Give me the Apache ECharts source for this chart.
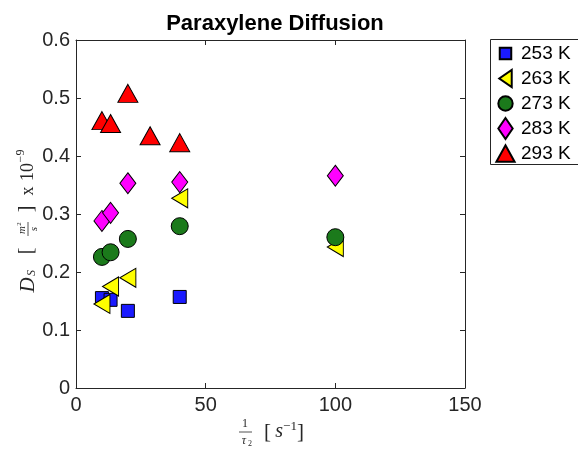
<!DOCTYPE html>
<html><head><meta charset="utf-8">
<script src="https://cdn.jsdelivr.net/npm/echarts@6/dist/echarts.min.js"></script>
<style>html,body{margin:0;padding:0;background:#fff}#c{width:578px;height:450px}</style>
</head><body><div id="c"></div>
<script>
const seriesNames = ['253 K', '263 K', '273 K', '283 K', '293 K'];
const x253 = [10, 13.33, 20, 40];
const y253 = [0.155, 0.152, 0.133, 0.157];
const x263 = [10, 13.33, 20, 40, 100];
const y263 = [0.145, 0.175, 0.190, 0.327, 0.243];
const x273 = [10, 13.33, 20, 40, 100];
const y273 = [0.226, 0.234, 0.257, 0.279, 0.260];
const x283 = [10, 13.33, 20, 40, 100];
const y283 = [0.288, 0.302, 0.353, 0.355, 0.366];
const x293 = [10, 13.33, 20, 28.57, 40];
const y293 = [0.461, 0.456, 0.508, 0.435, 0.423];
const xTicks = [0, 50, 100, 150];
const yTicks = [0, 0.1, 0.2, 0.3, 0.4, 0.5, 0.6];

const pairs = (xs, ys) => xs.map((x, i) => [x, ys[i]]);
const colors = ['#1a1aff', '#ffff00', '#1b7a1b', '#ff00ff', '#ff0000'];
const symbols = ['rect', 'triangle', 'circle', 'diamond', 'triangle'];
const box = 'M0,0 M24,24 ';
const legendIcons = [
  'path://' + box + 'M6,6 L18,6 L18,18 L6,18 Z',
  'path://' + box + 'M18.5,3 L18.5,21 L5.5,12 Z',
  'path://' + box + 'M4.5,12 A7.5,7.5 0 1,1 19.5,12 A7.5,7.5 0 1,1 4.5,12 Z',
  'path://' + box + 'M12,1 L19.5,12 L12,23 L4.5,12 Z',
  'path://' + box + 'M2.5,20.5 L21.5,20.5 L12,3.5 Z'
];
const rotations = [0, 90, 0, 0, 0];
const sizes = [[13, 13], [19, 16], [17, 17], [16, 21], [20, 18]];
const dataSets = [pairs(x253, y253), pairs(x263, y263), pairs(x273, y273), pairs(x283, y283), pairs(x293, y293)];

const font = 'Liberation Sans, Arial, Helvetica, sans-serif';
const serif = 'Liberation Serif, Times New Roman, serif';
const ink = '#262626';
const axisLine = { show: true, onZero: false, lineStyle: { color: ink, width: 1 } };
const tick = { show: true, inside: true, length: 5, lineStyle: { color: ink } };

const T = (x, y, text, size, opts) => ({
  type: 'text', x: x, y: y,
  style: Object.assign({ text: text, fontFamily: serif, fontSize: size, fill: ink, align: 'center', verticalAlign: 'middle' }, opts || {})
});

const chart = echarts.init(document.getElementById('c'), null, { renderer: 'canvas' });
chart.setOption({
  animation: false,
  title: {
    text: 'Paraxylene Diffusion', left: 270, top: 8, textAlign: 'center',
    textStyle: { fontFamily: font, fontWeight: 'bold', fontSize: 22, color: '#000' }
  },
  grid: { left: 76, top: 40, right: 113, bottom: 62, containLabel: false },
  legend: {
    left: 490, top: 39, orient: 'vertical', itemGap: 0, itemWidth: 23, itemHeight: 23,
    padding: [2, 3, 3, 3], borderWidth: 0, backgroundColor: 'transparent',
    data: seriesNames.map((n, i) => ({ name: n, icon: legendIcons[i] })),
    textStyle: { fontFamily: font, fontSize: 19, lineHeight: 22, color: '#000', padding: [0, 0, 0, -1] }
  },
  xAxis: [{
    type: 'value', min: 0, max: 150, interval: 50,
    axisLine: axisLine, axisTick: tick,
    axisLabel: { fontFamily: font, fontSize: 20, color: ink, margin: 7 },
    splitLine: { show: false }
  }, {
    type: 'value', position: 'top', min: 0, max: 150, interval: 50,
    axisLine: axisLine, axisTick: tick,
    axisLabel: { show: false }, splitLine: { show: false }
  }],
  yAxis: [{
    type: 'value', min: 0, max: 0.6, interval: 0.1,
    axisLine: axisLine, axisTick: tick,
    axisLabel: { fontFamily: font, fontSize: 20, color: ink, margin: 6,
      formatter: v => { const t = yTicks.find(k => Math.abs(k - v) < 1e-9); return String(t); } },
    splitLine: { show: false }
  }, {
    type: 'value', position: 'right', min: 0, max: 0.6, interval: 0.1,
    axisLine: axisLine, axisTick: tick,
    axisLabel: { show: false }, splitLine: { show: false }
  }],
  graphic: [{
    type: 'rect', z: -1, shape: { x: 490.5, y: 39.5, width: 120, height: 125 },
    style: { fill: '#fff', stroke: ink, lineWidth: 1 }
  }, {
    type: 'group', x: 0, y: 0,
    children: [
      T(245, 424, '1', 12),
      { type: 'line', shape: { x1: 239, y1: 432, x2: 252, y2: 432 }, style: { stroke: ink, lineWidth: 0.8 } },
      T(244, 441, 'τ', 12, { fontStyle: 'italic' }),
      T(250, 444, '2', 8),
      T(284, 432, '', 17, {
        text: '{b|[} {i|s}{s|−1}{b|]}',
        rich: {
          b: { fontFamily: serif, fontSize: 21, fill: ink },
          i: { fontFamily: serif, fontStyle: 'italic', fontSize: 20, fill: ink },
          s: { fontFamily: serif, fontSize: 13, fill: ink, verticalAlign: 'top', padding: [0, 0, 10, 0] }
        }
      })
    ]
  }, {
    type: 'group', x: 27, y: 216, rotation: Math.PI / 2,
    children: [
      T(-69, 1, 'D', 21, { fontStyle: 'italic' }),
      T(-57, 5, 'S', 12, { fontStyle: 'italic' }),
      T(-35, 0, '[', 20),
      T(-14, -5, 'm', 11, { fontStyle: 'italic' }),
      T(-8, -8, '2', 7),
      { type: 'line', shape: { x1: -20, y1: 1, x2: -6, y2: 1 }, style: { stroke: ink, lineWidth: 0.8 } },
      T(-13, 7, 's', 11, { fontStyle: 'italic' }),
      T(7, 0, ']', 20),
      T(25, 1, 'x', 18),
      T(44, 1, '10', 18),
      T(60, -6, '−9', 12)
    ]
  }],
  series: seriesNames.map((n, i) => ({
    name: n, type: 'scatter', data: dataSets[i], xAxisIndex: 0, yAxisIndex: 0,
    symbol: symbols[i], symbolSize: sizes[i], symbolRotate: rotations[i],
    itemStyle: { color: colors[i], borderColor: '#000', borderWidth: 1, opacity: 1 },
    emphasis: { disabled: true }
  }))
});
</script></body></html>
